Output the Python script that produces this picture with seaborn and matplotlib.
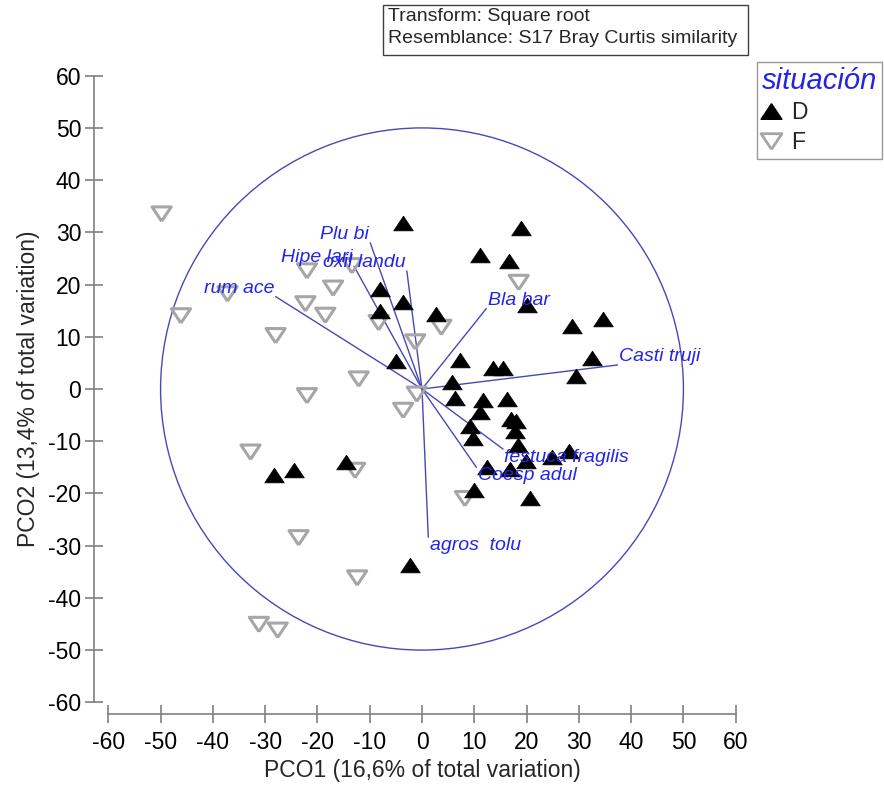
import matplotlib
matplotlib.use("Agg")
import matplotlib.pyplot as plt
from matplotlib.lines import Line2D
from matplotlib.patches import Circle, Rectangle
import seaborn as sns
import pandas as pd
import numpy as np

# ---------------- data ----------------
d_x = [-3.7, 19.0, 11.0, 16.6, -8.1, -3.7, 2.6, 20.1, -8.0, 28.7, 34.7, 32.6, 29.5,
       -4.9, 7.2, 13.6, 15.5, 5.7, 6.3, 11.7, 16.3, 11.0, 17.1, 18.0, 9.1, 17.7,
       9.8, 18.3, 28.1, 24.9, 19.9, 12.4, 16.8, 10.0, 20.6, -28.4, -24.5, -14.5, -2.2]
d_y = [31.8, 30.9, 25.6, 24.5, 19.1, 16.7, 14.3, 16.1, 15.0, 12.1, 13.5, 5.9, 2.5,
       5.3, 5.6, 4.0, 4.0, 1.3, -1.8, -2.2, -1.9, -4.5, -5.7, -6.1, -7.0, -8.0,
       -9.4, -10.8, -11.8, -13.1, -13.7, -15.0, -15.3, -19.3, -20.9, -16.4, -15.6, -13.9, -33.8]
f_x = [-49.8, -22.0, -13.4, -17.0, -37.2, -22.3, -18.5, -46.1, -8.3, 3.7, -28.0, -1.3,
       -12.1, -22.0, -3.6, -1.0, 18.5, -32.8, -12.8, 8.2, -23.6, -12.4, -31.2, -27.6]
f_y = [33.5, 22.6, 23.6, 19.3, 18.2, 16.3, 14.1, 14.0, 12.7, 11.8, 10.2, 9.0,
       1.9, -1.3, -4.1, -1.0, 20.4, -12.1, -15.6, -21.0, -28.5, -36.2, -45.1, -46.2]

vec_names = ["rum ace", "Hipe lari", "Plu bi", "oxil landu", "Bla bar",
             "Casti truji", "festuca fragilis", "Coesp adul", "agros  tolu"]
vec_x = [-28.0, -13.0, -9.9, -2.9, 12.3, 37.4, 15.5, 10.4, 1.2]
vec_y = [17.7, 23.5, 28.0, 22.6, 15.4, 4.6, -11.5, -15.0, -28.4]

circle_radius = 50
ticks = list(range(-60, 61, 10))
xlabel = "PCO1 (16,6% of total variation)"
ylabel = "PCO2 (13,4% of total variation)"
info_text = "Transform: Square root\nResemblance: S17 Bray Curtis similarity"
legend_title = "situación"
groups = ["D", "F"]

df = pd.DataFrame({
    "x": d_x + f_x,
    "y": d_y + f_y,
    "situación": ["D"] * len(d_x) + ["F"] * len(f_x),
})

# ---------------- style ----------------
sns.set_style("white")
plt.rcParams["font.family"] = ["Liberation Sans", "DejaVu Sans"]

W, H = 884, 785
fig = plt.figure(figsize=(W / 100, H / 100), dpi=100)
ax = fig.add_axes([108.3 / W, 1 - 702.3 / H, (735.7 - 108.3) / W, (702.3 - 75.7) / H])

up_tri = [(0, 0.75), (-1, -0.75), (1, -0.75), (0, 0.75)]
down_tri = [(0, -0.75), (-1, 0.75), (1, 0.75), (0, -0.75)]

gray = "#a6a6a6"
sns.scatterplot(data=df[df["situación"] == "F"], x="x", y="y", ax=ax,
                marker=down_tri, s=190, facecolor="none", edgecolor=gray,
                linewidth=2.2, legend=False, zorder=3)
sns.scatterplot(data=df[df["situación"] == "D"], x="x", y="y", ax=ax,
                marker=up_tri, s=200, color="black", edgecolor="black",
                linewidth=0.5, legend=False, zorder=4)

# reference circle
line_col = "#4848b8"
ax.add_patch(Circle((0, 0), circle_radius, fill=False, edgecolor=line_col,
                    linewidth=1.0, zorder=2))

# vectors
for name, vx, vy in zip(vec_names, vec_x, vec_y):
    ax.plot([0, vx], [0, vy], color=line_col, linewidth=1.0, zorder=2)
    ha = "left" if vx > 0 else "right"
    va = "bottom" if vy > 0 else "top"
    ax.annotate(name, (vx, vy), xytext=(1 if vx > 0 else -1, 0),
                textcoords="offset points", ha=ha, va=va,
                color="#2424e6", fontsize=14, fontstyle="italic", zorder=5)

ax.set_xlim(-60, 60)
ax.set_ylim(-60, 60)
ax.set_xticks(ticks)
ax.set_yticks(ticks)
ax.set_xticklabels([str(t) for t in ticks])
ax.set_yticklabels([str(t) for t in ticks])

for s in ["top", "right"]:
    ax.spines[s].set_visible(False)
spine_col = "#808080"
ax.spines["left"].set_position(("outward", 10))
ax.spines["bottom"].set_position(("outward", 8.5))
for s in ["left", "bottom"]:
    ax.spines[s].set_color(spine_col)
    ax.spines[s].set_linewidth(1.2)
ax.tick_params(axis="both", direction="inout", length=13, width=1.2,
               color=spine_col, labelsize=16.5, labelcolor="black")
ax.tick_params(axis="y", left=True, pad=3)
ax.tick_params(axis="x", bottom=True, pad=6)

ax.set_xlabel(xlabel, fontsize=16.5, labelpad=3)
ax.set_ylabel(ylabel, fontsize=16.5, labelpad=6)

# info box
fig.add_artist(Rectangle((383 / W, 1 - 55 / H), (748 - 383) / W, 50 / H,
                         transform=fig.transFigure, facecolor="white",
                         edgecolor="#404040", linewidth=1.0))
fig.text(388 / W, 1 - 8 / H, info_text, ha="left", va="top", fontsize=14,
         linespacing=1.38)

# legend
handles = [
    Line2D([0], [0], marker=up_tri, linestyle="none", markersize=15,
           markerfacecolor="black", markeredgecolor="black"),
    Line2D([0], [0], marker=down_tri, linestyle="none", markersize=15,
           markerfacecolor="none", markeredgecolor=gray, markeredgewidth=2.0),
]
leg = fig.legend(handles, groups, title=legend_title, loc="upper left",
                 bbox_to_anchor=(757 / W, 1 - 62 / H), frameon=True,
                 fontsize=16.5, title_fontsize=21, alignment="left",
                 handlelength=0.8, handletextpad=0.5, borderpad=0.2,
                 labelspacing=0.3, borderaxespad=0, fancybox=False)
leg.get_title().set_color("#2424e6")
leg.get_title().set_fontstyle("italic")
leg.get_frame().set_edgecolor("#808080")
leg.get_frame().set_linewidth(1.0)

fig.savefig("out.png", dpi=100)
